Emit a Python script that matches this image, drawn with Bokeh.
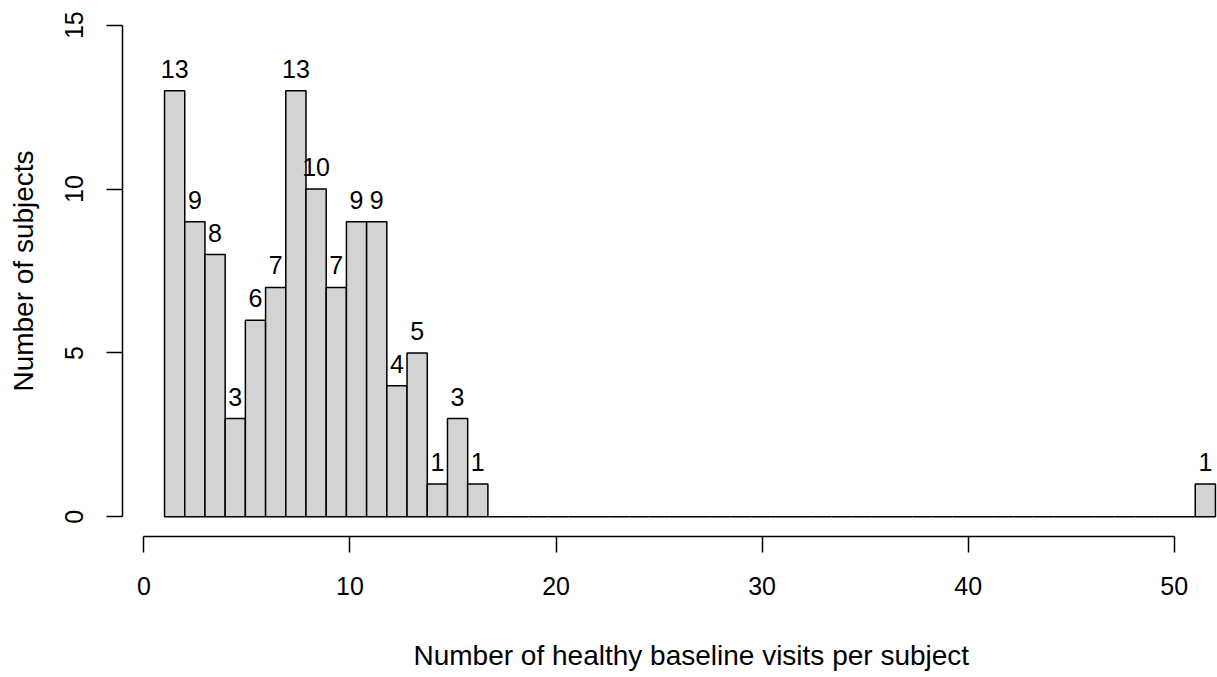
import numpy as np
from bokeh.plotting import figure
from bokeh.models import ColumnDataSource, FixedTicker, Range1d, Title
from bokeh.core.properties import value
from bokeh.embed import file_html
from bokeh.resources import INLINE

# Histogram: 52 equal-width bins spanning 1..52
break_min = 1
break_max = 52
counts = [13, 9, 8, 3, 6, 7, 13, 10, 7, 9, 9, 4, 5, 1, 3, 1] + [0] * 35 + [1]
x_ticks = [0, 10, 20, 30, 40, 50]
y_ticks = [0, 5, 10, 15]
x_title = "Number of healthy baseline visits per subject"
y_title = "Number of subjects"

edges = np.linspace(break_min, break_max, len(counts) + 1)
left = edges[:-1]
right = edges[1:]
mid = (left + right) / 2
labels = [str(c) if c > 0 else "" for c in counts]

src = ColumnDataSource(dict(left=left, right=right, top=counts, mid=mid, lab=labels))

FONT = "Liberation Sans"
FS = "25px"
FS_TITLE = "28px"

p = figure(width=1217, height=677, output_backend="svg", toolbar_location=None,
           x_range=Range1d(-1.04, 52.1), y_range=Range1d(-0.6, 15.6),
           min_border_left=122, min_border_right=0, min_border_top=5, min_border_bottom=141)
p.outline_line_color = None
p.xgrid.visible = False
p.ygrid.visible = False
p.background_fill_color = "white"
p.border_fill_color = "white"

p.quad(left="left", right="right", bottom=0, top="top", source=src,
       fill_color="#D3D3D3", line_color="black", line_width=1.5)
p.text(x="mid", y="top", text="lab", source=src, text_align="center",
       text_baseline="bottom", y_offset=-13, text_font=value(FONT),
       text_font_size=FS, text_color="black")

for ax in (p.xaxis[0], p.yaxis[0]):
    ax.axis_line_color = "black"
    ax.axis_line_width = 1.5
    ax.major_tick_line_color = "black"
    ax.major_tick_line_width = 1.5
    ax.major_tick_in = 0
    ax.major_tick_out = 16
    ax.minor_tick_line_color = None
    ax.major_label_text_font = FONT
    ax.major_label_text_font_size = FS
    ax.major_label_text_color = "black"
    ax.axis_label_text_font = FONT
    ax.axis_label_text_font_size = FS_TITLE
    ax.axis_label_text_font_style = "normal"
    ax.axis_label_text_color = "black"

p.xaxis[0].ticker = FixedTicker(ticks=x_ticks)
p.xaxis[0].bounds = (x_ticks[0], x_ticks[-1])
p.xaxis[0].major_label_standoff = 24
# blank spacer label: pushes the x title down to where R draws it
p.xaxis[0].axis_label = " "
p.xaxis[0].axis_label_text_font_size = "10px"
p.xaxis[0].axis_label_standoff = 19

# x title placed as in the reference (centred on R's wider plot region)
p.add_layout(Title(text=x_title, align="left", offset=291, standoff=14,
                   text_font=FONT, text_font_size=FS_TITLE,
                   text_font_style="normal", text_color="black"), "below")

p.yaxis[0].ticker = FixedTicker(ticks=y_ticks)
p.yaxis[0].bounds = (y_ticks[0], y_ticks[-1])
p.yaxis[0].axis_label = y_title
p.yaxis[0].major_label_orientation = "vertical"
p.yaxis[0].major_label_standoff = 23
p.yaxis[0].axis_label_standoff = 24

open("out.html", "w").write(file_html(p, INLINE))
